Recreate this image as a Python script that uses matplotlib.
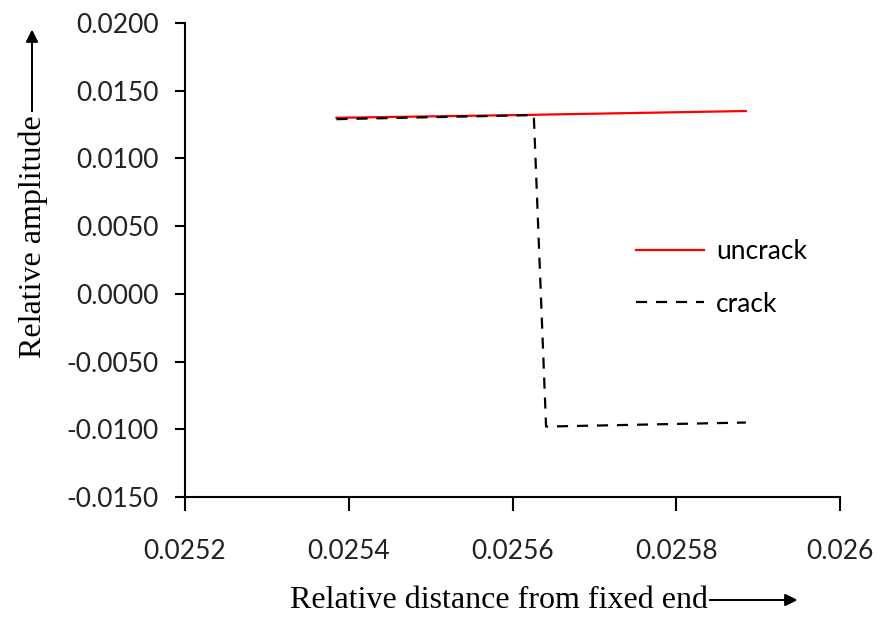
import matplotlib
matplotlib.use("Agg")
import matplotlib.pyplot as plt
from matplotlib.ticker import FormatStrFormatter

# values
dist = [0.025385, 0.025626, 0.025641, 0.025885]
uncrack = [0.0130, 0.01322, 0.01324, 0.0135]
crack = [0.0129, 0.0132, -0.0098, -0.0095]

xticks = [0.0252, 0.0254, 0.0256, 0.0258, 0.026]
xticklabels = ["0.0252", "0.0254", "0.0256", "0.0258", "0.026"]
yticks = [-0.015, -0.01, -0.005, 0.0, 0.005, 0.01, 0.015, 0.02]

W, H = 877, 619
fig = plt.figure(figsize=(W / 100, H / 100), dpi=100)
ax = fig.add_axes([185 / W, 1 - 497 / H, (840 - 185) / W, (497 - 23) / H])

ax.plot(dist, uncrack, color="red", lw=1.6, label="uncrack")
ax.plot(dist, crack, color="black", lw=1.6, ls=(0, (5, 4)), label="crack")

ax.set_xlim(0.0252, 0.026)
ax.set_ylim(-0.015, 0.02)
ax.set_xticks(xticks)
ax.set_xticklabels(xticklabels)
ax.set_yticks(yticks)
ax.yaxis.set_major_formatter(FormatStrFormatter("%.4f"))

for s in ["top", "right"]:
    ax.spines[s].set_visible(False)
for s in ["left", "bottom"]:
    ax.spines[s].set_linewidth(1.5)

tickfont = "Lato"
ax.tick_params(axis="x", direction="out", length=10, width=1.5, pad=20)
ax.tick_params(axis="y", direction="out", length=7, width=1.5, pad=12)
for lab in ax.get_xticklabels() + ax.get_yticklabels():
    lab.set_fontfamily(tickfont)
    lab.set_fontsize(19)
    lab.set_color("#222222")

leg = ax.legend(loc="upper left", bbox_to_anchor=(0.672, 0.567), frameon=False,
                prop={"family": tickfont, "size": 19}, handlelength=2.6,
                labelspacing=1.05, handletextpad=0.45, borderaxespad=0)

# axis titles with their arrows
fig.text(290 / W, 1 - 600 / H, "Relative distance from fixed end",
         family="Liberation Serif", fontsize=23, va="center", ha="left")
fig.add_artist(plt.annotate("", xy=(800 / W, 1 - 600 / H), xytext=(707 / W, 1 - 600 / H),
                            xycoords="figure fraction",
                            arrowprops=dict(arrowstyle="-|>", color="black", lw=1.3,
                                            mutation_scale=18)))
fig.text(33 / W, 1 - 237 / H, "Relative amplitude", family="Liberation Serif",
         fontsize=23, rotation=90, va="center", ha="center")
fig.add_artist(plt.annotate("", xy=(32 / W, 1 - 27 / H), xytext=(32 / W, 1 - 114 / H),
                            xycoords="figure fraction",
                            arrowprops=dict(arrowstyle="-|>", color="black", lw=1.3,
                                            mutation_scale=18)))

fig.savefig("out.png", dpi=100)
